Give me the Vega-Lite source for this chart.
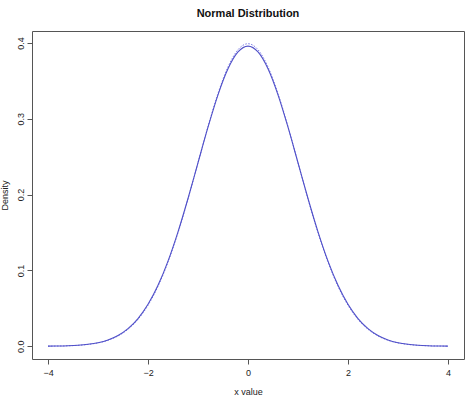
{
  "$schema": "https://vega.github.io/schema/vega-lite/v6.json",
  "autosize": {"type": "none"},
  "padding": {"left": 32, "top": 31, "right": 10, "bottom": 38},
  "width": 432,
  "height": 328,
  "background": "white",
  "config": {
    "view": {"stroke": "#555555", "strokeWidth": 1},
    "font": "Liberation Sans",
    "axis": {
      "grid": false,
      "domain": false,
      "tickColor": "#555555",
      "tickSize": 5,
      "labelFont": "Liberation Sans",
      "labelFontSize": 9,
      "labelColor": "#222222",
      "titleFont": "Liberation Sans",
      "titleFontSize": 9,
      "titleFontWeight": "normal",
      "titleColor": "#222222"
    }
  },
  "title": {
    "text": "Normal Distribution",
    "anchor": "middle",
    "frame": "group",
    "fontSize": 11,
    "fontWeight": "bold",
    "font": "Liberation Sans",
    "color": "#111111",
    "offset": 12
  },
  "data": {
    "values": [
      {"x": -4.0, "density": 0.000151, "curve": "fit"},
      {"x": -3.8, "density": 0.000325, "curve": "fit"},
      {"x": -3.6, "density": 0.000672, "curve": "fit"},
      {"x": -3.4, "density": 0.001339, "curve": "fit"},
      {"x": -3.2, "density": 0.002564, "curve": "fit"},
      {"x": -3.0, "density": 0.004721, "curve": "fit"},
      {"x": -2.8, "density": 0.008355, "curve": "fit"},
      {"x": -2.6, "density": 0.014215, "curve": "fit"},
      {"x": -2.4, "density": 0.023252, "curve": "fit"},
      {"x": -2.2, "density": 0.036566, "curve": "fit"},
      {"x": -2.0, "density": 0.055283, "curve": "fit"},
      {"x": -1.8, "density": 0.080356, "curve": "fit"},
      {"x": -1.6, "density": 0.112289, "curve": "fit"},
      {"x": -1.4, "density": 0.150858, "curve": "fit"},
      {"x": -1.2, "density": 0.194850, "curve": "fit"},
      {"x": -1.0, "density": 0.241963, "curve": "fit"},
      {"x": -0.8, "density": 0.288848, "curve": "fit"},
      {"x": -0.6, "density": 0.331524, "curve": "fit"},
      {"x": -0.4, "density": 0.365811, "curve": "fit"},
      {"x": -0.2, "density": 0.388062, "curve": "fit"},
      {"x": 0.0, "density": 0.395776, "curve": "fit"},
      {"x": 0.2, "density": 0.388062, "curve": "fit"},
      {"x": 0.4, "density": 0.365811, "curve": "fit"},
      {"x": 0.6, "density": 0.331524, "curve": "fit"},
      {"x": 0.8, "density": 0.288848, "curve": "fit"},
      {"x": 1.0, "density": 0.241963, "curve": "fit"},
      {"x": 1.2, "density": 0.194850, "curve": "fit"},
      {"x": 1.4, "density": 0.150858, "curve": "fit"},
      {"x": 1.6, "density": 0.112289, "curve": "fit"},
      {"x": 1.8, "density": 0.080356, "curve": "fit"},
      {"x": 2.0, "density": 0.055283, "curve": "fit"},
      {"x": 2.2, "density": 0.036566, "curve": "fit"},
      {"x": 2.4, "density": 0.023252, "curve": "fit"},
      {"x": 2.6, "density": 0.014215, "curve": "fit"},
      {"x": 2.8, "density": 0.008355, "curve": "fit"},
      {"x": 3.0, "density": 0.004721, "curve": "fit"},
      {"x": 3.2, "density": 0.002564, "curve": "fit"},
      {"x": 3.4, "density": 0.001339, "curve": "fit"},
      {"x": 3.6, "density": 0.000672, "curve": "fit"},
      {"x": 3.8, "density": 0.000325, "curve": "fit"},
      {"x": 4.0, "density": 0.000151, "curve": "fit"},
      {"x": -4.0, "density": 0.000134, "curve": "normal"},
      {"x": -3.8, "density": 0.000292, "curve": "normal"},
      {"x": -3.6, "density": 0.000612, "curve": "normal"},
      {"x": -3.4, "density": 0.001232, "curve": "normal"},
      {"x": -3.2, "density": 0.002384, "curve": "normal"},
      {"x": -3.0, "density": 0.004432, "curve": "normal"},
      {"x": -2.8, "density": 0.007915, "curve": "normal"},
      {"x": -2.6, "density": 0.013583, "curve": "normal"},
      {"x": -2.4, "density": 0.022395, "curve": "normal"},
      {"x": -2.2, "density": 0.035475, "curve": "normal"},
      {"x": -2.0, "density": 0.053991, "curve": "normal"},
      {"x": -1.8, "density": 0.078950, "curve": "normal"},
      {"x": -1.6, "density": 0.110921, "curve": "normal"},
      {"x": -1.4, "density": 0.149727, "curve": "normal"},
      {"x": -1.2, "density": 0.194186, "curve": "normal"},
      {"x": -1.0, "density": 0.241971, "curve": "normal"},
      {"x": -0.8, "density": 0.289692, "curve": "normal"},
      {"x": -0.6, "density": 0.333225, "curve": "normal"},
      {"x": -0.4, "density": 0.368270, "curve": "normal"},
      {"x": -0.2, "density": 0.391043, "curve": "normal"},
      {"x": 0.0, "density": 0.398942, "curve": "normal"},
      {"x": 0.2, "density": 0.391043, "curve": "normal"},
      {"x": 0.4, "density": 0.368270, "curve": "normal"},
      {"x": 0.6, "density": 0.333225, "curve": "normal"},
      {"x": 0.8, "density": 0.289692, "curve": "normal"},
      {"x": 1.0, "density": 0.241971, "curve": "normal"},
      {"x": 1.2, "density": 0.194186, "curve": "normal"},
      {"x": 1.4, "density": 0.149727, "curve": "normal"},
      {"x": 1.6, "density": 0.110921, "curve": "normal"},
      {"x": 1.8, "density": 0.078950, "curve": "normal"},
      {"x": 2.0, "density": 0.053991, "curve": "normal"},
      {"x": 2.2, "density": 0.035475, "curve": "normal"},
      {"x": 2.4, "density": 0.022395, "curve": "normal"},
      {"x": 2.6, "density": 0.013583, "curve": "normal"},
      {"x": 2.8, "density": 0.007915, "curve": "normal"},
      {"x": 3.0, "density": 0.004432, "curve": "normal"},
      {"x": 3.2, "density": 0.002384, "curve": "normal"},
      {"x": 3.4, "density": 0.001232, "curve": "normal"},
      {"x": 3.6, "density": 0.000612, "curve": "normal"},
      {"x": 3.8, "density": 0.000292, "curve": "normal"},
      {"x": 4.0, "density": 0.000134, "curve": "normal"}
    ]
  },
  "encoding": {
    "x": {
      "field": "x",
      "type": "quantitative",
      "scale": {"domain": [-4.32, 4.32], "nice": false, "zero": false},
      "axis": {"values": [-4, -2, 0, 2, 4], "title": "x value", "titlePadding": 10, "labelPadding": 4, "format": "d"}
    },
    "y": {
      "field": "density",
      "type": "quantitative",
      "scale": {"domain": [-0.0168, 0.4157], "nice": false, "zero": false},
      "axis": {
        "values": [0, 0.1, 0.2, 0.3, 0.4],
        "format": ".1f",
        "title": "Density",
        "labelAngle": -90,
        "labelAlign": "center",
        "labelBaseline": "bottom",
        "labelPadding": 2,
        "titlePadding": 7
      }
    }
  },
  "layer": [
    {
      "transform": [{"filter": "datum.curve === 'normal'"}],
      "mark": {"type": "line", "interpolate": "monotone", "color": "#7878e6", "strokeWidth": 1, "strokeDash": [1.5, 1.5]}
    },
    {
      "transform": [{"filter": "datum.curve === 'fit'"}],
      "mark": {"type": "line", "interpolate": "monotone", "color": "#5050c8", "strokeWidth": 1.1}
    }
  ]
}
